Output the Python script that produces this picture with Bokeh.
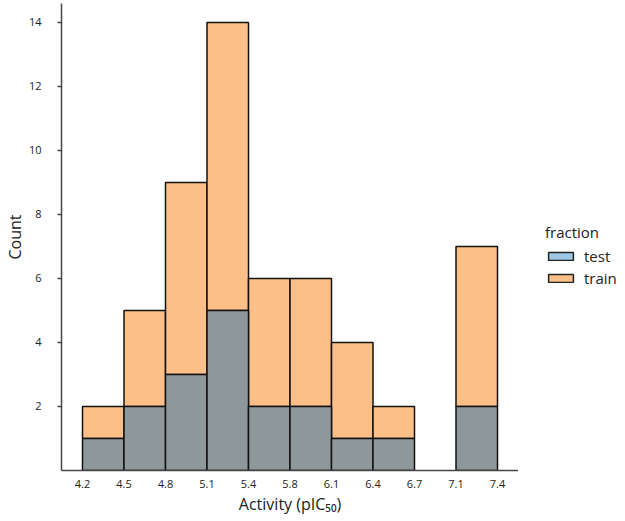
from bokeh.plotting import figure
from bokeh.layouts import row
from bokeh.models import (ColumnDataSource, Range1d, FixedTicker, Legend, LegendItem)
from bokeh.embed import file_html
from bokeh.resources import INLINE

# ---- data ----
edge_labels = ["4.2", "4.5", "4.8", "5.1", "5.4", "5.8", "6.1", "6.4", "6.7", "7.1", "7.4"]
test_counts = [1, 2, 3, 5, 2, 2, 1, 1, 0, 2]
train_counts = [1, 3, 6, 9, 4, 4, 3, 1, 0, 5]
y_ticks = [2, 4, 6, 8, 10, 12, 14]

FONT = "Open Sans"
TRAIN_COLOR = "#fdbf88"
TEST_BAR_COLOR = "#8e989b"
TEST_LEGEND_COLOR = "#9fc8e6"
H = 521

# build quads from bin indices (library scales handle positions)
test_src = dict(left=[], right=[], bottom=[], top=[])
train_src = dict(left=[], right=[], bottom=[], top=[])
for i, (te, tr) in enumerate(zip(test_counts, train_counts)):
    if te > 0:
        test_src["left"].append(i); test_src["right"].append(i + 1)
        test_src["bottom"].append(0); test_src["top"].append(te)
    if tr > 0:
        train_src["left"].append(i); train_src["right"].append(i + 1)
        train_src["bottom"].append(te); train_src["top"].append(te + tr)

test_cds = ColumnDataSource(test_src)
train_cds = ColumnDataSource(train_src)

p = figure(width=518, height=H, output_backend="svg", toolbar_location=None,
           x_range=Range1d(-0.506, 10.506), y_range=Range1d(0, 14.59),
           min_border_left=61, min_border_top=3, min_border_right=0, min_border_bottom=51)
p.outline_line_color = None
p.xgrid.visible = False
p.ygrid.visible = False

p.quad(left="left", right="right", bottom="bottom", top="top",
       source=train_cds, fill_color=TRAIN_COLOR,
       line_color="#111111", line_width=1.5)
p.quad(left="left", right="right", bottom="bottom", top="top",
       source=test_cds, fill_color=TEST_BAR_COLOR,
       line_color="#111111", line_width=1.5)

# axes
xa = p.xaxis[0]
xa.ticker = FixedTicker(ticks=list(range(len(edge_labels))))
xa.major_label_overrides = {i: lab for i, lab in enumerate(edge_labels)}
xa.major_tick_out = 0
xa.major_tick_in = 0
xa.minor_tick_out = 0
xa.minor_tick_in = 0
xa.axis_label = "Activity (pIC\u2085\u2080)"

ya = p.yaxis[0]
ya.ticker = FixedTicker(ticks=y_ticks)
ya.major_tick_out = 4
ya.major_tick_in = 0
ya.minor_tick_out = 0
ya.minor_tick_in = 0
ya.axis_label = "Count"
ya.major_label_orientation = "horizontal"

for ax in (xa, ya):
    ax.axis_line_color = "#444444"
    ax.axis_line_width = 1.5
    ax.major_tick_line_color = "#444444"
    ax.major_tick_line_width = 1.5
    ax.major_label_text_font = FONT
    ax.major_label_text_font_size = "11px"
    ax.major_label_text_color = "#222222"
    ax.axis_label_text_font = FONT
    ax.axis_label_text_font_size = "16px"
    ax.axis_label_text_font_style = "normal"
    ax.axis_label_text_color = "#222222"

xa.major_label_standoff = 9
xa.axis_label_standoff = 2
ya.major_label_standoff = 16
ya.axis_label_standoff = 0

# ---- legend panel (separate figure; the bars themselves fall outside its ranges) ----
lg = figure(width=107, height=H, output_backend="svg", toolbar_location=None,
            x_range=Range1d(100, 101), y_range=Range1d(100, 101),
            min_border=0)
lg.axis.visible = False
lg.grid.visible = False
lg.outline_line_color = None
r_test = lg.quad(left="left", right="right", bottom="bottom", top="top",
                 source=test_cds, fill_color=TEST_LEGEND_COLOR,
                 line_color="#222222", line_width=1.5)
r_train = lg.quad(left="left", right="right", bottom="bottom", top="top",
                  source=train_cds, fill_color=TRAIN_COLOR,
                  line_color="#222222", line_width=1.5)

legend = Legend(items=[LegendItem(label="test", renderers=[r_test]),
                       LegendItem(label="train", renderers=[r_train])],
                title="fraction", location=(27, 182))
legend.title_text_font = FONT
legend.title_text_font_size = "15px"
legend.title_text_font_style = "normal"
legend.title_text_color = "#222222"
legend.title_standoff = 4
legend.label_text_font = FONT
legend.label_text_font_size = "15px"
legend.label_text_color = "#222222"
legend.glyph_width = 31
legend.glyph_height = 10
legend.label_standoff = 8
legend.spacing = 2
legend.border_line_color = None
legend.background_fill_alpha = 0
legend.margin = 0
legend.padding = 2
lg.add_layout(legend)

layout = row(p, lg, spacing=0)
open("out.html", "w").write(file_html(layout, INLINE))
